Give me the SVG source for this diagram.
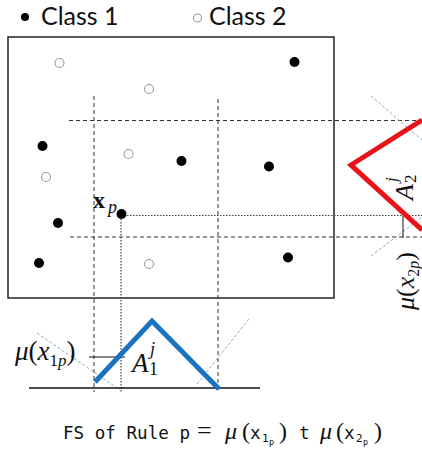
<svg xmlns="http://www.w3.org/2000/svg" width="422" height="452" viewBox="0 0 422 452">
<style>
.legend{font-family:Lato,"Open Sans",sans-serif;font-size:25px;fill:#111}
.c1{fill:#000}
.c2{fill:#fff;stroke:#9a9a9a;stroke-width:1.1}
.dash{stroke:#333;stroke-width:1;stroke-dasharray:4 3;fill:none}
.dot{stroke:#444;stroke-width:1.2;stroke-dasharray:1.5 1.5;fill:none}
.guide{stroke:#8ea9c4;stroke-width:1;stroke-dasharray:3 2;fill:none}
.math{font-family:"Liberation Serif","DejaVu Serif",serif;fill:#111}
.it{font-style:italic}
.mono{font-family:"DejaVu Sans Mono","Liberation Mono",monospace;fill:#111}
</style>
<rect width="422" height="452" fill="#fff"/>
<g id="legend">
  <circle class="c1" cx="25" cy="17" r="4"/>
  <text class="legend" x="41" y="25">Class 1</text>
  <circle class="c2" cx="197.5" cy="18" r="4"/>
  <text class="legend" x="209" y="25">Class 2</text>
</g>
<g id="pattern-space">
  <rect x="8" y="37" width="326" height="261" fill="none" stroke="#222" stroke-width="1.5"/>
</g>
<g id="connectors">
  <line class="dash" x1="94" y1="96" x2="94" y2="392"/>
  <line class="dash" x1="218" y1="99" x2="218" y2="392"/>
  <line class="dash" x1="69" y1="120.5" x2="422" y2="120.5"/>
  <line class="dash" x1="70" y1="237" x2="422" y2="237"/>
  <line class="dot" x1="127" y1="215.5" x2="422" y2="215.5"/>
  <line class="dot" x1="121" y1="219" x2="121" y2="392"/>
  <line class="guide" x1="37" y1="333" x2="120" y2="390"/>
  <line class="guide" x1="197" y1="384" x2="249" y2="319"/>
  <line class="guide" x1="371" y1="96" x2="422" y2="140"/>
  <line class="guide" x1="371" y1="256" x2="422" y2="217"/>
  <line x1="29" y1="388" x2="260" y2="388" stroke="#111" stroke-width="1.3"/>
  <line x1="89" y1="357" x2="125" y2="357" stroke="#111" stroke-width="1"/>
  <line x1="403" y1="216" x2="403" y2="238" stroke="#111" stroke-width="1"/>
</g>
<g id="class1-points">
  <circle class="c1" cx="294.5" cy="62" r="5"/>
  <circle class="c1" cx="42.5" cy="146" r="5"/>
  <circle class="c1" cx="181.5" cy="161" r="5"/>
  <circle class="c1" cx="269" cy="166.5" r="5"/>
  <circle class="c1" cx="58" cy="223" r="5"/>
  <circle class="c1" cx="39" cy="263" r="5"/>
  <circle class="c1" cx="288" cy="257.5" r="5"/>
</g>
<g id="class2-points">
  <circle class="c2" cx="59.5" cy="63" r="4.5"/>
  <circle class="c2" cx="149" cy="89" r="4.5"/>
  <circle class="c2" cx="128.5" cy="154" r="4.5"/>
  <circle class="c2" cx="46" cy="177" r="4.5"/>
  <circle class="c2" cx="149" cy="264" r="4.5"/>
</g>
<g id="xp">
  <circle class="c1" cx="121.5" cy="214" r="5"/>
  <text class="math" x="93" y="208" font-size="24" font-weight="bold">x</text>
  <text class="math it" x="108" y="213" font-size="18">p</text>
</g>
<g id="mf1">
  <polyline points="95,382 152,321 219,389" fill="none" stroke="#1b72c0" stroke-width="5" stroke-linejoin="miter"/>
  <text class="math" x="15" y="360" font-size="27"><tspan class="it">μ</tspan>(<tspan class="it">x</tspan><tspan font-size="17" dy="6">1</tspan><tspan class="it" font-size="17">p</tspan><tspan dy="-6">)</tspan></text>
  <text class="math it" x="132" y="372" font-size="27">A</text>
  <text class="math it" x="150" y="355" font-size="18">j</text>
  <text class="math" x="149" y="375" font-size="18">1</text>
</g>
<g id="mf2">
  <polyline points="422,120 351,165 422,230" fill="none" stroke="#e8141a" stroke-width="5" stroke-linejoin="miter"/>
  <g transform="translate(414,310) rotate(-90)">
    <text class="math" x="0" y="0" font-size="26"><tspan class="it">μ</tspan>(<tspan class="it">x</tspan><tspan font-size="16" dy="5">2</tspan><tspan class="it" font-size="16">p</tspan><tspan dy="-5">)</tspan></text>
  </g>
  <g transform="translate(413,200) rotate(-90)">
    <text class="math it" x="0" y="0" font-size="26">A</text>
    <text class="math it" x="18" y="-16" font-size="17">j</text>
    <text class="math" x="17" y="3" font-size="17">2</text>
  </g>
</g>
<g id="formula">
  <text class="mono" x="63" y="439" font-size="17.6" textLength="127" lengthAdjust="spacingAndGlyphs">FS of Rule p</text>
  <text class="math" x="197" y="439" font-size="26">=</text>
  <text class="math it" x="225" y="439" font-size="24">μ</text>
  <text class="math" x="242" y="439" font-size="24">(</text>
  <text class="mono" x="250" y="439" font-size="17.6">x</text>
  <text class="mono" x="262" y="442" font-size="11">1</text>
  <text class="mono" x="269" y="445" font-size="8.5">p</text>
  <text class="math" x="279" y="439" font-size="24">)</text>
  <text class="mono" x="299" y="439" font-size="17.6">t</text>
  <text class="math it" x="320" y="439" font-size="24">μ</text>
  <text class="math" x="336" y="439" font-size="24">(</text>
  <text class="mono" x="344" y="439" font-size="17.6">x</text>
  <text class="mono" x="356" y="442" font-size="11">2</text>
  <text class="mono" x="363" y="445" font-size="8.5">p</text>
  <text class="math" x="374" y="439" font-size="24">)</text>
</g>
</svg>
